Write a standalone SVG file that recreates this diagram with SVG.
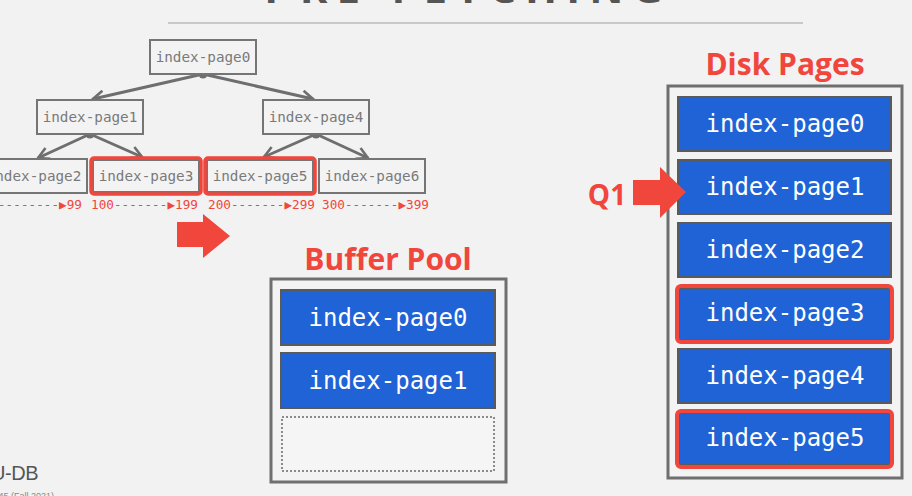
<svg xmlns="http://www.w3.org/2000/svg" width="912" height="496" viewBox="0 0 912 496">
<defs>
<style>
.bg{fill:#f2f2f2}
.tnode{fill:#f3f3f3;stroke:#757575;stroke-width:2}
.tred{fill:none;stroke:#f0463c;stroke-width:3.5}
.ttxt{font-family:"DejaVu Sans Mono","Liberation Mono",monospace;font-size:14.3px;fill:#7a7a7a;text-anchor:middle}
.rng{font-family:"DejaVu Sans Mono","Liberation Mono",monospace;font-size:12.7px;fill:#f0463c}
.edge{fill:none;stroke:#6e6e6e;stroke-width:3}
.dot{fill:#6e6e6e}
.title{font-family:"Open Sans","Liberation Sans",sans-serif;font-weight:bold;font-size:30px;fill:#f0463c;text-anchor:middle}
.box{fill:#f3f3f3;stroke:#6f6f6f;stroke-width:3}
.slot{fill:#1f63d6;stroke:#5a5a5a;stroke-width:2}
.stxt{font-family:"DejaVu Sans Mono","Liberation Mono",monospace;font-size:24px;fill:#ffffff;text-anchor:middle}
.hl{fill:none;stroke:#f0463c;stroke-width:4}
.bigarrow{fill:#f0463c}
</style>
<marker id="chev" viewBox="0 0 14 14" refX="12" refY="7" markerWidth="14" markerHeight="14" markerUnits="userSpaceOnUse" orient="auto">
<path d="M1,1 L12,7 L1,13" fill="none" stroke="#6e6e6e" stroke-width="2.6"/>
</marker>
</defs>
<rect class="bg" x="0" y="0" width="912" height="496"/>
<g id="header">
<text x="468" y="3" font-family="Open Sans, Liberation Sans, sans-serif" font-weight="bold" font-size="42" fill="#555555" text-anchor="middle" letter-spacing="9">PRE-FETCHING</text>
<line x1="168" y1="23" x2="803" y2="23" stroke="#c8c8c8" stroke-width="2"/>
</g>
<g id="connectors">
<line class="edge" x1="203" y1="74" x2="93" y2="99" marker-end="url(#chev)"/>
<line class="edge" x1="203" y1="74" x2="313" y2="99" marker-end="url(#chev)"/>
<line class="edge" x1="90" y1="134" x2="38" y2="158" marker-end="url(#chev)"/>
<line class="edge" x1="90" y1="134" x2="142" y2="157" marker-end="url(#chev)"/>
<line class="edge" x1="316" y1="134" x2="264" y2="157" marker-end="url(#chev)"/>
<line class="edge" x1="316" y1="134" x2="368" y2="158" marker-end="url(#chev)"/>
<circle class="dot" cx="203" cy="74" r="4.5"/>
<circle class="dot" cx="90" cy="134" r="4.5"/>
<circle class="dot" cx="316" cy="134" r="4.5"/>
</g>
<g id="tree-page0"><rect class="tnode" x="150" y="40" width="106" height="34"/><text class="ttxt" x="203" y="62">index-page0</text></g>
<g id="tree-page1"><rect class="tnode" x="37" y="100" width="106" height="34"/><text class="ttxt" x="90" y="122">index-page1</text></g>
<g id="tree-page4"><rect class="tnode" x="263" y="100" width="106" height="34"/><text class="ttxt" x="316" y="122">index-page4</text></g>
<g id="tree-page2"><rect class="tnode" x="-19" y="159" width="106" height="34"/><text class="ttxt" x="34" y="181">index-page2</text></g>
<g id="tree-page3"><rect class="tnode" x="93" y="160" width="106" height="32"/><rect class="tred" x="91" y="158" width="110" height="36" rx="3"/><text class="ttxt" x="146" y="181">index-page3</text></g>
<g id="tree-page5"><rect class="tnode" x="207" y="160" width="106" height="32"/><rect class="tred" x="205" y="158" width="110" height="36" rx="3"/><text class="ttxt" x="260" y="181">index-page5</text></g>
<g id="tree-page6"><rect class="tnode" x="319" y="159" width="106" height="34"/><text class="ttxt" x="372" y="181">index-page6</text></g>
<g id="ranges">
<text class="rng" x="82" y="209" text-anchor="end">0---------▶99</text>
<text class="rng" x="91" y="209">100-------▶199</text>
<text class="rng" x="208" y="209">200-------▶299</text>
<text class="rng" x="322" y="209">300-------▶399</text>
</g>
<g id="prefetch-arrow"><path class="bigarrow" d="M177,222 L203,222 L203,214 L230,236 L203,258 L203,247 L177,247 Z"/></g>
<g id="buffer-pool">
<text class="title" x="388" y="270">Buffer Pool</text>
<rect class="box" x="271" y="279" width="235" height="203"/>
<rect class="slot" x="281" y="290" width="214" height="55"/>
<text class="stxt" x="388" y="326">index-page0</text>
<rect class="slot" x="281" y="353" width="214" height="55"/>
<text class="stxt" x="388" y="389">index-page1</text>
<rect x="282" y="417" width="212" height="54" fill="#f5f5f5" stroke="#8a8a8a" stroke-width="2" stroke-dasharray="2,2"/>
</g>
<g id="disk-pages">
<text class="title" x="785" y="75">Disk Pages</text>
<rect class="box" x="668" y="86" width="234" height="392"/>
<rect class="slot" x="678" y="97" width="213" height="54"/>
<text class="stxt" x="785" y="132">index-page0</text>
<rect class="slot" x="678" y="160" width="213" height="54"/>
<text class="stxt" x="785" y="195">index-page1</text>
<rect class="slot" x="678" y="223" width="213" height="54"/>
<text class="stxt" x="785" y="258">index-page2</text>
<rect class="slot" x="679" y="288" width="211" height="52"/>
<rect class="hl" x="677" y="286" width="215" height="56" rx="4"/>
<text class="stxt" x="785" y="321">index-page3</text>
<rect class="slot" x="678" y="349" width="213" height="54"/>
<text class="stxt" x="785" y="384">index-page4</text>
<rect class="slot" x="679" y="413" width="211" height="52"/>
<rect class="hl" x="677" y="411" width="215" height="56" rx="4"/>
<text class="stxt" x="785" y="446">index-page5</text>
</g>
<g id="q1">
<text x="607" y="205" font-family="Open Sans, Liberation Sans, sans-serif" font-weight="bold" font-size="28" fill="#f0463c" text-anchor="middle">Q1</text>
<path class="bigarrow" d="M633,180 L660,180 L660,167 L686,192 L660,218 L660,205 L633,205 Z"/>
</g>
<g id="footer">
<text x="38" y="480" font-family="Liberation Sans, sans-serif" font-size="20" fill="#555555" text-anchor="end" letter-spacing="-0.5">CMU-DB</text>
<text x="54" y="499" font-family="Liberation Sans, sans-serif" font-size="9" fill="#888888" text-anchor="end">15-445/645 (Fall 2021)</text>
</g>
</svg>
